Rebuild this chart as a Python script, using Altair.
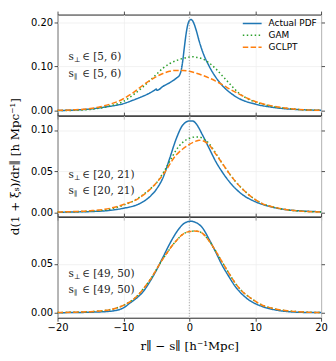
import altair as alt
import pandas as pd

SERIES = ["Actual PDF", "GAM", "GCLPT"]
COLORS = ["#1f77b4", "#2ca02c", "#ff7f0e"]
DASHES = [[1, 0], [1.5, 2.5], [5.5, 2.4]]

X_DOMAIN = [-20, 20]
X_TICKS = [-20, -10, 0, 10, 20]
X_TITLE = "r∥ − s∥ [h⁻¹Mpc]"
Y_TITLE = "d(1 + ξₛ)/dr∥ [h Mpc⁻¹]"

# annotation pieces: symbol, subscripts, interval text per panel
ANN_SYMBOL = "s"
ANN_SUBS = ["⊥", "∥"]
P1_RANGE = "∈ [5, 6)"
P2_RANGE = "∈ [20, 21)"
P3_RANGE = "∈ [49, 50)"

# ---------------- panel 1
P1_YDOMAIN = [-0.011, 0.217]
P1_YTICKS = [0.0, 0.1, 0.2]
P1_PDF_X = [-20, -17.5, -15, -12.5, -10, -8.5, -7, -6, -5.3, -5.0, -4.9, -4, -3, -2, -1.5, -1.25,
            -1, -0.75, -0.5, -0.25, 0, 0.25, 0.5, 1, 1.5, 2, 3, 4, 5, 6, 7.5, 10, 12.5, 15, 17.5, 20]
P1_PDF_Y = [0.0005, 0.0015, 0.004, 0.009, 0.016, 0.024, 0.033, 0.040, 0.046, 0.049, 0.046, 0.055,
            0.063, 0.073, 0.080, 0.090, 0.112, 0.143, 0.172, 0.193, 0.203, 0.206, 0.203, 0.184,
            0.157, 0.134, 0.101, 0.076, 0.057, 0.043, 0.028, 0.015, 0.008, 0.004, 0.002, 0.001]
P1_GAM_X = [-20, -17.5, -15, -13.5, -12, -10, -8.5, -7, -6, -5, -4, -3, -2, -1, 0, 0.5, 1, 2, 3,
            4, 5, 6, 7.5, 9, 10, 12.5, 15, 17.5, 20]
P1_GAM_Y = [0.0003, 0.001, 0.003, 0.006, 0.011, 0.021, 0.036, 0.054, 0.068, 0.082, 0.096, 0.106,
            0.113, 0.118, 0.121, 0.122, 0.121, 0.117, 0.108, 0.095, 0.079, 0.063, 0.040, 0.026,
            0.020, 0.010, 0.005, 0.002, 0.001]
P1_GCLPT_X = [-20, -17.5, -15, -13.5, -12, -11, -10, -8.5, -7, -6, -5, -4, -3, -2, -1, 0, 1, 2, 3,
              4, 5, 6, 7.5, 9, 10, 12.5, 15, 17.5, 20]
P1_GCLPT_Y = [0.001, 0.002, 0.005, 0.009, 0.015, 0.020, 0.027, 0.041, 0.058, 0.068, 0.077, 0.084,
              0.089, 0.091, 0.091, 0.089, 0.085, 0.080, 0.074, 0.067, 0.059, 0.050, 0.038, 0.027,
              0.021, 0.011, 0.005, 0.002, 0.001]

# ---------------- panel 2
P2_YDOMAIN = [-0.0052, 0.1175]
P2_YTICKS = [0.0, 0.05, 0.1]
P2_PDF_X = [-20, -17.5, -15, -12, -10, -8, -7, -6, -5, -4, -3, -2, -1, 0, 0.5, 1, 2, 3, 4, 5, 6,
            7, 8, 10, 12, 15, 17.5, 20]
P2_PDF_Y = [0.0002, 0.0005, 0.001, 0.0025, 0.005, 0.009, 0.013, 0.019, 0.028, 0.042, 0.065, 0.089,
            0.106, 0.111, 0.111, 0.108, 0.094, 0.078, 0.062, 0.049, 0.038, 0.029, 0.022, 0.013,
            0.0076, 0.003, 0.0015, 0.0008]
P2_GAM_X = [-20, -17.5, -15, -12, -10, -8, -7, -6, -5, -4, -3, -2, -1, 0, 1, 1.5, 2, 3, 4, 5, 6, 7,
            8, 9, 11, 13, 15, 17.5, 20]
P2_GAM_Y = [0.0003, 0.0008, 0.0015, 0.004, 0.0088, 0.016, 0.0216, 0.028, 0.0356, 0.0476, 0.0615,
            0.0756, 0.085, 0.090, 0.0915, 0.0915, 0.090, 0.0836, 0.072, 0.0596, 0.048, 0.0376,
            0.029, 0.0216, 0.011, 0.006, 0.003, 0.0012, 0.0005]
P2_GCLPT_X = [-20, -17.5, -15, -12, -10, -8, -6, -4, -2, -1, 0, 1, 1.5, 2, 3, 4, 5, 6, 7, 8, 9,
              11, 13, 15, 17.5, 20]
P2_GCLPT_Y = [0.0005, 0.001, 0.002, 0.005, 0.0096, 0.0156, 0.0276, 0.0456, 0.0696, 0.077, 0.0825,
              0.0865, 0.0875, 0.087, 0.082, 0.071, 0.0596, 0.048, 0.0376, 0.029, 0.0216, 0.011,
              0.006, 0.003, 0.0012, 0.0005]

# ---------------- panel 3
P3_YDOMAIN = [-0.005, 0.098]
P3_YTICKS = [0.0, 0.05]
P3_PDF_X = [-20, -17.5, -15, -12, -10, -9, -8, -7, -6, -5, -4, -3, -2, -1, 0, 0.25, 1, 2, 3, 4, 5,
            6, 7, 8, 9, 11, 13, 15, 17.5, 20]
P3_PDF_Y = [0.0001, 0.0003, 0.0006, 0.0016, 0.005, 0.010, 0.015, 0.0216, 0.0316, 0.0433, 0.0566,
            0.070, 0.0816, 0.090, 0.0932, 0.0933, 0.092, 0.0866, 0.075, 0.062, 0.0483, 0.037,
            0.0266, 0.019, 0.0133, 0.0066, 0.003, 0.0012, 0.0004, 0.0002]
P3_GAM_X = [-20, -17.5, -15, -12, -10, -8, -6, -4, -2, -1, 0, 0.75, 1.5, 2, 3, 4, 5, 6, 7, 8, 9,
            11, 13, 15, 17.5, 20]
P3_GAM_Y = [0.0003, 0.0006, 0.0012, 0.0033, 0.0076, 0.0166, 0.0333, 0.055, 0.0733, 0.080, 0.0828,
            0.0833, 0.0828, 0.081, 0.0733, 0.063, 0.0516, 0.0405, 0.030, 0.022, 0.0166, 0.008,
            0.004, 0.002, 0.0007, 0.0003]
P3_GCLPT_X = [-20, -17.5, -15, -12, -10, -8, -6, -4, -2, -1, 0, 0.75, 1.5, 2, 3, 4, 5, 6, 7, 8, 9,
              11, 13, 15, 17.5, 20]
P3_GCLPT_Y = [0.0003, 0.0006, 0.0012, 0.0033, 0.0076, 0.0166, 0.0333, 0.055, 0.0733, 0.080,
              0.0828, 0.0833, 0.0828, 0.081, 0.0733, 0.063, 0.0516, 0.0405, 0.030, 0.022, 0.0166,
              0.008, 0.004, 0.002, 0.0007, 0.0003]

W = 266
H = 102

color_scale = alt.Scale(domain=SERIES, range=COLORS)
dash_scale = alt.Scale(domain=SERIES, range=DASHES)
legend = alt.Legend(title=None, orient="none", legendX=186, legendY=4, symbolType="stroke",
                    symbolSize=361, symbolStrokeWidth=1.5, labelFont="DejaVu Sans",
                    labelFontSize=9, labelOffset=6, clipHeight=10, rowPadding=2, padding=0,
                    labelColor="#000000")


def text_layer(txt, x, y, size, dy=0):
    return alt.Chart(pd.DataFrame({"t": [txt]})).mark_text(
        align="left", baseline="middle", font="DejaVu Serif", fontSize=size,
        color="#222222", dy=dy
    ).encode(x=alt.value(x), y=alt.value(y), text="t:N")


def panel(series_xy, rng, ydomain, yticks, show_xlabels, show_ytitle, label_ys):
    xscale = alt.Scale(domain=X_DOMAIN, nice=False, zero=False)
    yscale = alt.Scale(domain=ydomain, nice=False, zero=False)
    layers = []
    for i, (name, xs, ys) in enumerate(series_xy):
        df = pd.DataFrame({"x": xs, "y": ys, "series": name})
        if i == 0:
            xaxis = alt.Axis(orient="bottom", values=X_TICKS, labels=show_xlabels, grid=True,
                             title=X_TITLE if show_xlabels else None, labelFlush=False,
                             format="d", labelPadding=1.5, titlePadding=8)
            yaxis = alt.Axis(orient="left", values=yticks, format=".2f", grid=True,
                             title=Y_TITLE if show_ytitle else None, labelPadding=1.5,
                             titlePadding=9)
        else:
            xaxis = None
            yaxis = None
        layers.append(
            alt.Chart(df).mark_line(strokeWidth=1.5, interpolate="monotone").encode(
                x=alt.X("x:Q", scale=xscale, axis=xaxis),
                y=alt.Y("y:Q", scale=yscale, axis=yaxis),
                color=alt.Color("series:N", scale=color_scale, legend=legend),
                strokeDash=alt.StrokeDash("series:N", scale=dash_scale, legend=legend),
            )
        )
    # vertical dotted line at zero + top axis ticks
    layers.append(
        alt.Chart(pd.DataFrame({"v": [0]})).mark_rule(
            color="#8c8c8c", strokeWidth=0.9, strokeDash=[0.9, 1.8]
        ).encode(
            x=alt.X("v:Q", scale=xscale,
                    axis=alt.Axis(orient="top", values=X_TICKS, labels=False, title=None,
                                  grid=False)),
        )
    )
    # right axis ticks
    name, xs, ys = series_xy[0]
    layers.append(
        alt.Chart(pd.DataFrame({"x": xs, "y": ys})).mark_line(opacity=0).encode(
            x=alt.X("x:Q", scale=xscale, axis=None),
            y=alt.Y("y:Q", scale=yscale,
                    axis=alt.Axis(orient="right", values=yticks, labels=False, title=None,
                                  grid=False)),
        )
    )
    for sub, ly in zip(ANN_SUBS, label_ys):
        layers.append(text_layer(ANN_SYMBOL, 11, ly, 10.5, dy=-1))
        layers.append(text_layer(sub, 16.5, ly, 7, dy=2))
        layers.append(text_layer(rng, 25, ly, 10.5, dy=-1))
    return alt.layer(*layers).resolve_axis(x="independent", y="independent").properties(
        width=W, height=H
    )


p1 = panel([("Actual PDF", P1_PDF_X, P1_PDF_Y), ("GAM", P1_GAM_X, P1_GAM_Y),
            ("GCLPT", P1_GCLPT_X, P1_GCLPT_Y)], P1_RANGE, P1_YDOMAIN, P1_YTICKS,
           False, False, [43.5, 61])
p2 = panel([("Actual PDF", P2_PDF_X, P2_PDF_Y), ("GAM", P2_GAM_X, P2_GAM_Y),
            ("GCLPT", P2_GCLPT_X, P2_GCLPT_Y)], P2_RANGE, P2_YDOMAIN, P2_YTICKS,
           False, True, [61, 77])
p3 = panel([("Actual PDF", P3_PDF_X, P3_PDF_Y), ("GAM", P3_GAM_X, P3_GAM_Y),
            ("GCLPT", P3_GCLPT_X, P3_GCLPT_Y)], P3_RANGE, P3_YDOMAIN, P3_YTICKS,
           True, False, [59, 75])

chart = alt.vconcat(p1, p2, p3, spacing=0, bounds="flush").resolve_scale(
    x="independent", y="independent", color="shared", strokeDash="shared"
).properties(
    padding={"left": 0, "top": 0, "right": 0, "bottom": 0}
).configure_view(
    stroke="#222222", strokeWidth=1
).configure_axis(
    labelFont="DejaVu Sans", labelFontSize=10, labelColor="#000000",
    tickColor="#222222", tickSize=3.5, tickWidth=0.8, domain=False,
    gridColor="#eeeeee", gridWidth=0.8,
    titleFont="DejaVu Serif", titleFontSize=12, titleFontWeight="normal", titleColor="#000000"
)

chart.save("out.html", embed_options={"renderer": "svg", "actions": False})
